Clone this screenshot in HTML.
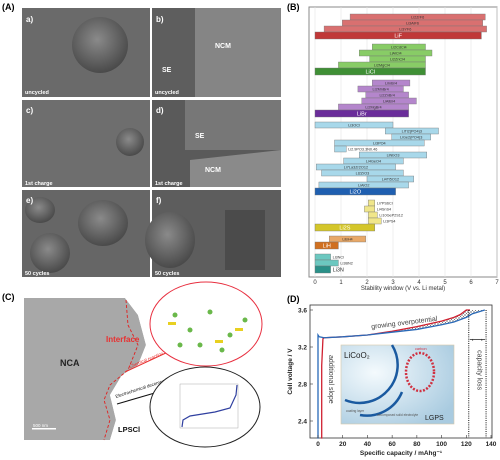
<!DOCTYPE html>
<html><head><meta charset="utf-8"><style>
html,body{margin:0;padding:0;background:#fff;}
svg{display:block;font-family:"Liberation Sans",sans-serif;}
</style></head><body>
<svg id="fig" width="500" height="460" viewBox="0 0 500 460" xmlns="http://www.w3.org/2000/svg">
<defs>
<radialGradient id="sph" cx="45%" cy="40%" r="60%"><stop offset="0" stop-color="#8a8a8a"/><stop offset="1" stop-color="#4a4a4a"/></radialGradient>
<radialGradient id="inb" cx="30%" cy="35%" r="80%"><stop offset="0" stop-color="#f4fafd"/><stop offset="1" stop-color="#a9cbe0"/></radialGradient>
<pattern id="hatch" width="3" height="3" patternUnits="userSpaceOnUse"><path d="M0 0L3 3M3 0L0 3" stroke="#555" stroke-width="0.4"/></pattern>
</defs>

<!-- Panel A -->
<text x="2" y="10" font-size="9" font-weight="bold">(A)</text>
<g>
 <g><rect x="22" y="8" width="128" height="89" fill="#6a6a6a"/><ellipse cx="100" cy="45" rx="28" ry="28" fill="url(#sph)"/><text x="26" y="22" font-size="8" font-weight="bold" fill="#fff">a)</text><text x="25" y="94" font-size="5.5" font-weight="bold" fill="#fff">uncycled</text></g>
 <g><rect x="152" y="8" width="129" height="89" fill="#5e5e5e"/><rect x="195" y="8" width="86" height="89" fill="#858585"/><text x="156" y="22" font-size="8" font-weight="bold" fill="#fff">b)</text><text x="215" y="48" font-size="7" font-weight="bold" fill="#fff">NCM</text><text x="162" y="72" font-size="7" font-weight="bold" fill="#fff">SE</text><text x="155" y="94" font-size="5.5" font-weight="bold" fill="#fff">uncycled</text></g>
 <g><rect x="22" y="100" width="128" height="87" fill="#6e6e6e"/><ellipse cx="130" cy="142" rx="14" ry="14" fill="url(#sph)"/><text x="26" y="113" font-size="8" font-weight="bold" fill="#fff">c)</text><text x="25" y="185" font-size="5.5" font-weight="bold" fill="#fff">1st charge</text></g>
 <g><rect x="152" y="100" width="129" height="87" fill="#5a5a5a"/><path d="M185 100 L281 100 L281 150 L185 150 Z" fill="#777"/><path d="M190 160 L281 150 L281 187 L190 187Z" fill="#8a8a8a"/><text x="156" y="113" font-size="8" font-weight="bold" fill="#fff">d)</text><text x="195" y="138" font-size="7" font-weight="bold" fill="#fff">SE</text><text x="205" y="172" font-size="7" font-weight="bold" fill="#fff">NCM</text><text x="155" y="185" font-size="5.5" font-weight="bold" fill="#fff">1st charge</text></g>
 <g><rect x="22" y="190" width="128" height="87" fill="#666"/><ellipse cx="103" cy="223" rx="25" ry="23" fill="url(#sph)"/><ellipse cx="50" cy="253" rx="20" ry="20" fill="url(#sph)"/><ellipse cx="40" cy="210" rx="15" ry="13" fill="url(#sph)"/><text x="26" y="203" font-size="8" font-weight="bold" fill="#fff">e)</text><text x="25" y="275" font-size="5.5" font-weight="bold" fill="#fff">50 cycles</text></g>
 <g><rect x="152" y="190" width="129" height="87" fill="#5d5d5d"/><ellipse cx="170" cy="240" rx="25" ry="28" fill="url(#sph)"/><rect x="225" y="210" width="40" height="60" fill="#4b4b4b"/><text x="156" y="203" font-size="8" font-weight="bold" fill="#fff">f)</text><text x="155" y="275" font-size="5.5" font-weight="bold" fill="#fff">50 cycles</text></g>
</g>

<!-- Panel B -->
<text x="287" y="10" font-size="9" font-weight="bold">(B)</text>
<g id="chartB"></g>

<!-- Panel C -->
<text x="2" y="300" font-size="9" font-weight="bold">(C)</text>
<g>
 <path d="M24 298 L125 298 L138 315 L146 345 L138 365 L122 375 L110 395 L116 420 L110 440 L24 440Z" fill="#a8a8a8"/>
 <path d="M125 298 L138 315 L146 345 L138 365 L122 375 L110 395 L116 420 L110 440 L150 440 L150 298Z" fill="#fff"/>
 <path d="M126 300 L128 325 L138 345 L128 370 L110 385 L104 400 L110 420 L104 440" fill="none" stroke="#e02020" stroke-width="0.9" stroke-dasharray="3,2"/>
 <text x="60" y="366" font-size="9" font-weight="bold" fill="#222">NCA</text>
 <text x="106" y="342" font-size="8" font-weight="bold" fill="#e83030">Interface</text>
 <text x="118" y="432" font-size="7.5" font-weight="bold" fill="#111">LPSCl</text>
 <rect x="32" y="428" width="24" height="1.5" fill="#fff"/><text x="33" y="427" font-size="4.5" fill="#fff">500 nm</text>
 <text x="130" y="368" font-size="4.5" fill="#e83030" transform="rotate(-22 130 368)">Chemical reaction</text>
 <line x1="125" y1="372" x2="168" y2="352" stroke="#e83030" stroke-width="1"/>
 <text x="116" y="398" font-size="4.5" fill="#111" transform="rotate(-18 116 398)">Electrochemical decomposition</text>
 <line x1="117" y1="404" x2="165" y2="390" stroke="#111" stroke-width="1"/>
 <ellipse cx="206" cy="324" rx="56" ry="42" fill="#fff" stroke="#e83040" stroke-width="1"/>
 <g fill="#6ab84a"><circle cx="175" cy="315" r="2.5"/><circle cx="190" cy="330" r="2.5"/><circle cx="210" cy="312" r="2.5"/><circle cx="230" cy="335" r="2.5"/><circle cx="200" cy="345" r="2.5"/><circle cx="222" cy="350" r="2.5"/><circle cx="180" cy="345" r="2.5"/><circle cx="245" cy="320" r="2.5"/></g>
 <g fill="#e8d020"><rect x="168" y="322" width="8" height="3"/><rect x="235" y="328" width="8" height="3"/><rect x="215" y="340" width="8" height="3"/></g>
 <ellipse cx="205" cy="407" rx="55" ry="40" fill="#fff" stroke="#222" stroke-width="1"/>
 <rect x="180" y="384" width="58" height="44" fill="none" stroke="#999" stroke-width="0.4"/>
 <path d="M182 427 L183 420 L190 416 L215 412 L230 408 L236 395 L237 385" fill="none" stroke="#3040a0" stroke-width="1.2"/>
</g>

<!-- Panel D -->
<text x="287" y="302" font-size="9" font-weight="bold">(D)</text>
<g id="chartD"></g>

<script>
// ===== Panel B data =====
const bNames = ["Li2ZrF6","Li3AlF6","Li3YF6","LiF","Li2CdCl4","LiAlCl4","Li2ZnCl4","Li2MgCl4","LiCl","LiInBr4","Li2MnBr4","Li2ZnBr4","LiAlBr4","Li2MgBr4","LiBr","Li3OCl","LiTi2(PO4)3","LiGe2(PO4)3","Li3PO4","Li2.9PO3.3N0.46","LiNbO3","Li4GeO4","Li7La3Zr2O12","Li2ZrO3","Li4Ti5O12","LiAlO2","Li2O","Li7PS6Cl","Li4SnS4","Li10GeP2S12","Li3PS4","Li2S","LiBH4","LiH","Li3NCl","Li3BN2","Li3N"];
const bLow  = [1.35,1.05,0.35,0,2.2,1.7,2.1,0.9,0,2.2,1.65,1.95,1.8,0.9,0,0,2.7,2.95,0.75,0.75,1.7,1.1,0.05,0.25,2.0,0.15,0,2.05,1.9,2.05,2.05,0,0.55,0,0,0,0];
const bHigh = [6.55,6.45,6.6,6.4,4.25,4.5,4.25,4.25,4.25,3.65,3.4,3.6,3.9,3.6,3.6,3.0,4.75,4.45,4.2,1.2,4.3,3.4,3.1,3.4,3.8,3.6,3.1,2.3,2.3,2.4,2.55,2.3,1.95,0.9,0.6,0.9,0.6];
const bGroup = [0,0,0,0,1,1,1,1,1,2,2,2,2,2,2,3,3,3,3,3,3,3,3,3,3,3,3,4,4,4,4,4,5,5,6,6,6];
const bMain = [0,0,0,1,0,0,0,0,1,0,0,0,0,0,1,0,0,0,0,0,0,0,0,0,0,0,1,0,0,0,0,1,0,1,0,0,1];
const bTicks = [0,1,2,3,4,5,6,7];
// ===== Panel D data =====
const dCapRed  = [3,3,4,5,20,40,60,80,100,110,115,120,123];
const dVolRed  = [2.2,3.0,3.29,3.3,3.31,3.33,3.37,3.42,3.48,3.52,3.55,3.6,3.6];
const dCapBlue = [0,0,1,5,20,40,60,80,100,110,120,125,130,135];
const dVolBlue = [2.2,3.33,3.31,3.3,3.31,3.33,3.36,3.39,3.44,3.47,3.52,3.56,3.58,3.6];
const dXTicks = [0,20,40,60,80,100,120,140];
const dYTicks = [2.4,2.8,3.2,3.6];
const dLossStart = 122, dLossEnd = 136;

const NS="http://www.w3.org/2000/svg";
function mk(parent,tag,attrs,text){const e=document.createElementNS(NS,tag);for(const k in attrs)e.setAttribute(k,attrs[k]);if(text!==undefined)e.textContent=text;parent.appendChild(e);return e;}

// ---- Chart B ----
(function(){
 const g=document.getElementById('chartB');
 const L=309,R=497,T=7,B=277,x0=315,x7=497;
 const xs=v=>x0+(x7-x0)*v/7;
 const fills=[["#d97070","#c03838"],["#88cc66","#3f8f35"],["#b486cc","#6a2d9a"],["#a8d8ea","#1f5fb0"],["#f0e68a","#d4c62a"],["#e8a868","#d07020"],["#6cc8c0","#2a9088"]];
 mk(g,'rect',{x:L,y:T,width:R-L,height:B-T,fill:'#fff',stroke:'#888','stroke-width':1});
 bTicks.forEach(t=>{
  const gl=mk(g,'line',{x1:xs(t),x2:xs(t),y1:T,y2:B,stroke:'#e4e4e4','stroke-width':0.6});
  
  
  const tl=mk(g,'text',{x:xs(t),y:B+7,'font-size':6,'text-anchor':'middle',fill:'#333'},String(t));
  
  
 });
 const at=mk(g,'text',{x:(L+R)/2,y:B+13,'font-size':6,'text-anchor':'middle',fill:'#333'},'Stability window (V vs. Li metal)');
 
 
 let y=14, prevG=0;
 bNames.forEach((n,i)=>{
  if(bGroup[i]!==prevG){y+=5;prevG=bGroup[i];}
  const h=bMain[i]?7:6;
  const c=fills[bGroup[i]][bMain[i]];
  const r=mk(g,'rect',{x:xs(bLow[i]),y:y,width:xs(bHigh[i])-xs(bLow[i]),height:h,fill:c,stroke:'#777','stroke-width':0.4});
  
  
  const w=xs(bHigh[i])-xs(bLow[i]);
  var lim = bMain[i] ? 18 : 28;
  var tx, anchor = 'middle', col = bMain[i] ? '#fff' : '#333';
  if (w < lim) { tx = xs(bHigh[i]) + 2; anchor = 'start'; col = '#333'; } else { tx = (xs(bLow[i]) + xs(bHigh[i])) / 2; }
  const lb=mk(g,'text',{x:tx,y:y+h-1.5,'font-size':bMain[i]?5.5:3.8,'text-anchor':anchor,fill:col},n);
  
  
  y+=h;
 });
})();

// ---- Chart D ----
(function(){
 const g=document.getElementById('chartD');
 const L=310,R=492,T=305,B=438;
 const xs=v=>318+(491-318)*v/140;
 const ys=v=>310+(421-310)*(3.6-v)/1.2;
 const cl=v=>Math.max(v,2.21);
 const ptsR=dCapRed.map((c,i)=>xs(c)+','+ys(cl(dVolRed[i]))).join(' ');
 const ptsB=dCapBlue.map((c,i)=>xs(c)+','+ys(cl(dVolBlue[i]))).join(' ');
 const hpts=dCapRed.filter(c=>c>=60).map(c=>{const j=dCapRed.indexOf(c);return xs(c)+','+ys(dVolRed[j]);});
 const bpts=dCapBlue.filter(c=>c>=60).map(c=>{const j=dCapBlue.indexOf(c);return xs(c)+','+ys(dVolBlue[j]);}).reverse();
 const hp=mk(g,'polygon',{points:hpts.concat([xs(dLossEnd)+','+ys(3.6)]).concat(bpts).join(' '),fill:'url(#hatch)',stroke:'none'});
 
 
 const ins=mk(g,'g',{});
 
 
 mk(ins,'rect',{x:341,y:345,width:113,height:79,fill:'url(#inb)',stroke:'#d8c8a8','stroke-width':0.6});
 mk(ins,'path',{d:'M392 345 A38 38 0 0 1 345 400 M360 415 A38 38 0 0 0 402 392',fill:'none',stroke:'#1a5aa0','stroke-width':2.5});
 mk(ins,'ellipse',{cx:420,cy:372,rx:14,ry:19,fill:'none',stroke:'#d03040','stroke-width':2.5,'stroke-dasharray':'2,1.5'});
 mk(ins,'text',{x:344,y:358,'font-size':8,fill:'#222'},'LiCoO\u2082');
 mk(ins,'text',{x:425,y:420,'font-size':7,fill:'#222'},'LGPS');
 mk(ins,'text',{x:415,y:350,'font-size':3.8,fill:'#d03040'},'carbon');
 mk(ins,'text',{x:346,y:412,'font-size':3.2,fill:'#555'},'coating layer');
 mk(ins,'text',{x:377,y:416,'font-size':3.2,fill:'#555'},'decomposed solid electrolyte');
 mk(g,'rect',{x:L,y:T,width:R-L,height:B-T,fill:'none',stroke:'#333','stroke-width':0.8});
 const rl=mk(g,'polyline',{points:ptsR,fill:'none',stroke:'#d02030','stroke-width':1.3});
 
 
 const bl=mk(g,'polyline',{points:ptsB,fill:'none',stroke:'#2a6ab8','stroke-width':1.3});
 
 
 dXTicks.forEach(t=>{
  mk(g,'line',{x1:xs(t),x2:xs(t),y1:B,y2:B-3,stroke:'#333','stroke-width':0.6});
  const tl=mk(g,'text',{x:xs(t),y:B+8,'font-size':6.5,'font-weight':'bold','text-anchor':'middle',fill:'#222'},String(t));
  
  
 });
 dYTicks.forEach(t=>{
  mk(g,'line',{x1:L,x2:L+3,y1:ys(t),y2:ys(t),stroke:'#333','stroke-width':0.6});
  const tl=mk(g,'text',{x:L-3,y:ys(t)+2.5,'font-size':6.5,'font-weight':'bold','text-anchor':'end',fill:'#222'},t.toFixed(1));
  
  
 });
 const xt=mk(g,'text',{x:(L+R)/2,y:B+17,'font-size':6.5,'font-weight':'bold','text-anchor':'middle',fill:'#222'},'Specific capacity / mAhg\u207B\u00B9');
 
 
 const yt=mk(g,'text',{x:292,y:(T+B)/2,'font-size':6.5,'font-weight':'bold','text-anchor':'middle',fill:'#222',transform:'rotate(-90 292 '+(T+B)/2+')'},'Cell voltage / V');
 
 
 [dLossStart,dLossEnd].forEach(c=>{
  const dl=mk(g,'line',{x1:xs(c),x2:xs(c),y1:ys(3.6),y2:B,stroke:'#111','stroke-width':1,'stroke-dasharray':'1,1.2'});
  
  
 });
 mk(g,'line',{x1:xs(dLossStart)+1,x2:xs(dLossEnd)-1,y1:ys(3.28),y2:ys(3.28),stroke:'#111','stroke-width':0.7});
 mk(g,'text',{x:xs(dLossStart)+3,y:ys(3.28)+2,'font-size':5,fill:'#111'},'\u2039');
 mk(g,'text',{x:xs(dLossEnd)-5,y:ys(3.28)+2,'font-size':5,fill:'#111'},'\u203A');
 const cx=(xs(dLossStart)+xs(dLossEnd))/2;
 const cll=mk(g,'text',{x:cx,y:ys(2.95),'font-size':7,fill:'#444','text-anchor':'middle',transform:'rotate(90 '+cx+' '+ys(2.95)+')'},'capacity loss');
 
 
 const asl=mk(g,'text',{x:xs(9),y:ys(2.85),'font-size':7,fill:'#444','text-anchor':'middle',transform:'rotate(90 '+xs(9)+' '+ys(2.85)+')'},'additional slope');
 
 
 const go=mk(g,'text',{x:xs(70),y:ys(3.44),'font-size':7,fill:'#444','text-anchor':'middle',transform:'rotate(-7 '+xs(70)+' '+ys(3.44)+')'},'growing overpotential');
 
 
})();
</script>
</svg>
</body></html>
